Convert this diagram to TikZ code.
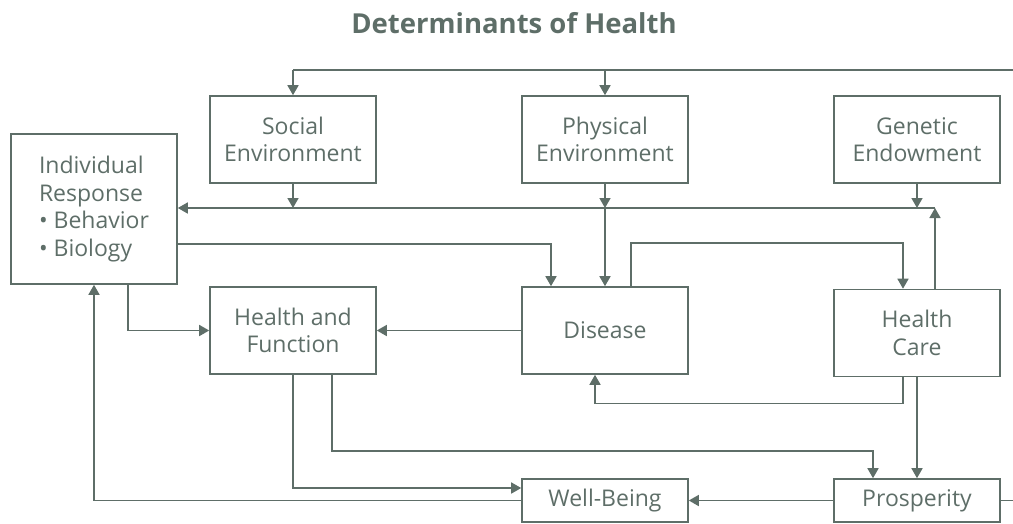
\documentclass[tikz,border=0pt]{standalone}
\usepackage{fontspec}
\setmainfont{Open Sans}
\usetikzlibrary{arrows.meta}
\definecolor{sage}{RGB}{94,110,104}

\begin{document}
\begin{tikzpicture}[x=1pt, y=-1pt, color=sage, line width=1.6pt,
	box/.style={draw, line width=1.6pt, minimum width=166pt, minimum height=87pt, align=center, font=\fontsize{23}{27.5}\selectfont},
	arr/.style={-{Triangle[length=10pt,width=11pt]}}]
	\useasboundingbox (0,0) rectangle (1013,523);
	\node[anchor=base, font=\bfseries\fontsize{27.5}{33}\selectfont] (title) at (514,33) {Determinants of Health};
	\node[box] (soc) at (293,139.5) {Social\\Environment};
	\node[box] (phy) at (605,139.5) {Physical\\Environment};
	\node[box] (gen) at (917,139.5) {Genetic\\Endowment};
	\node[box, minimum height=150pt, align=left] (ind) at (94,209) {Individual\\Response\\\textbullet{} Behavior\\\textbullet{} Biology};
	\node[box] (hf) at (293,330.5) {Health and\\Function};
	\node[box] (dis) at (605,330.5) {Disease};
	\node[box] (hc) at (917,333) {Health\\Care};
	\node[box, minimum height=43pt] (wb) at (605,500.5) {Well-Being};
	\node[box, minimum height=43pt] (pro) at (917,500.5) {Prosperity};
	\coordinate (topend) at (1013,70);
	\coordinate (hub) at (935,208);
	\coordinate (lowend) at (1013,500.5);
	% feedback from the right edge
	\draw (topend) -- (soc.north |- topend);
	\draw[arr] (soc.north |- topend) -- (soc.north);
	\draw[arr] (phy.north |- topend) -- (phy.north);
	\draw (pro.east) -- (lowend);
	% row into individual response
	\draw[arr] (hub) -- (ind.east |- hub);
	\draw[arr] ([xshift=18pt]hc.north) -- (hub);
	\draw[arr] (soc.south) -- (soc.south |- hub);
	\draw[arr] (phy.south) -- (phy.south |- hub);
	\draw[arr] (gen.south) -- (gen.south |- hub);
	\draw[arr] (phy.south |- hub) -- (dis.north);
	% middle
	\draw[arr] ([yshift=-35pt]ind.east) -| ([xshift=-54pt]dis.north);
	\draw[arr] ([xshift=26pt]dis.north) -- ++(0,-43) -| ([xshift=-14pt]hc.north);
	\draw[arr] ([xshift=34pt]ind.south) |- (hf.west);
	\draw[arr] (dis.west) -- (hf.east);
	\draw[arr] ([xshift=-14pt]hc.south) -- ++(0,26) -| ([xshift=-10pt]dis.south);
	% bottom
	\draw[arr] (hc.south) -- (pro.north);
	\draw[arr] ([xshift=39pt]hf.south) -- ++(0,76) -| ([xshift=-44pt]pro.north);
	\draw[arr] (hf.south) |- ([yshift=12.5pt]wb.west);
	\draw[arr] (pro.west) -- (wb.east);
	\draw[arr] (wb.west) -| (ind.south);
\end{tikzpicture}
\end{document}
